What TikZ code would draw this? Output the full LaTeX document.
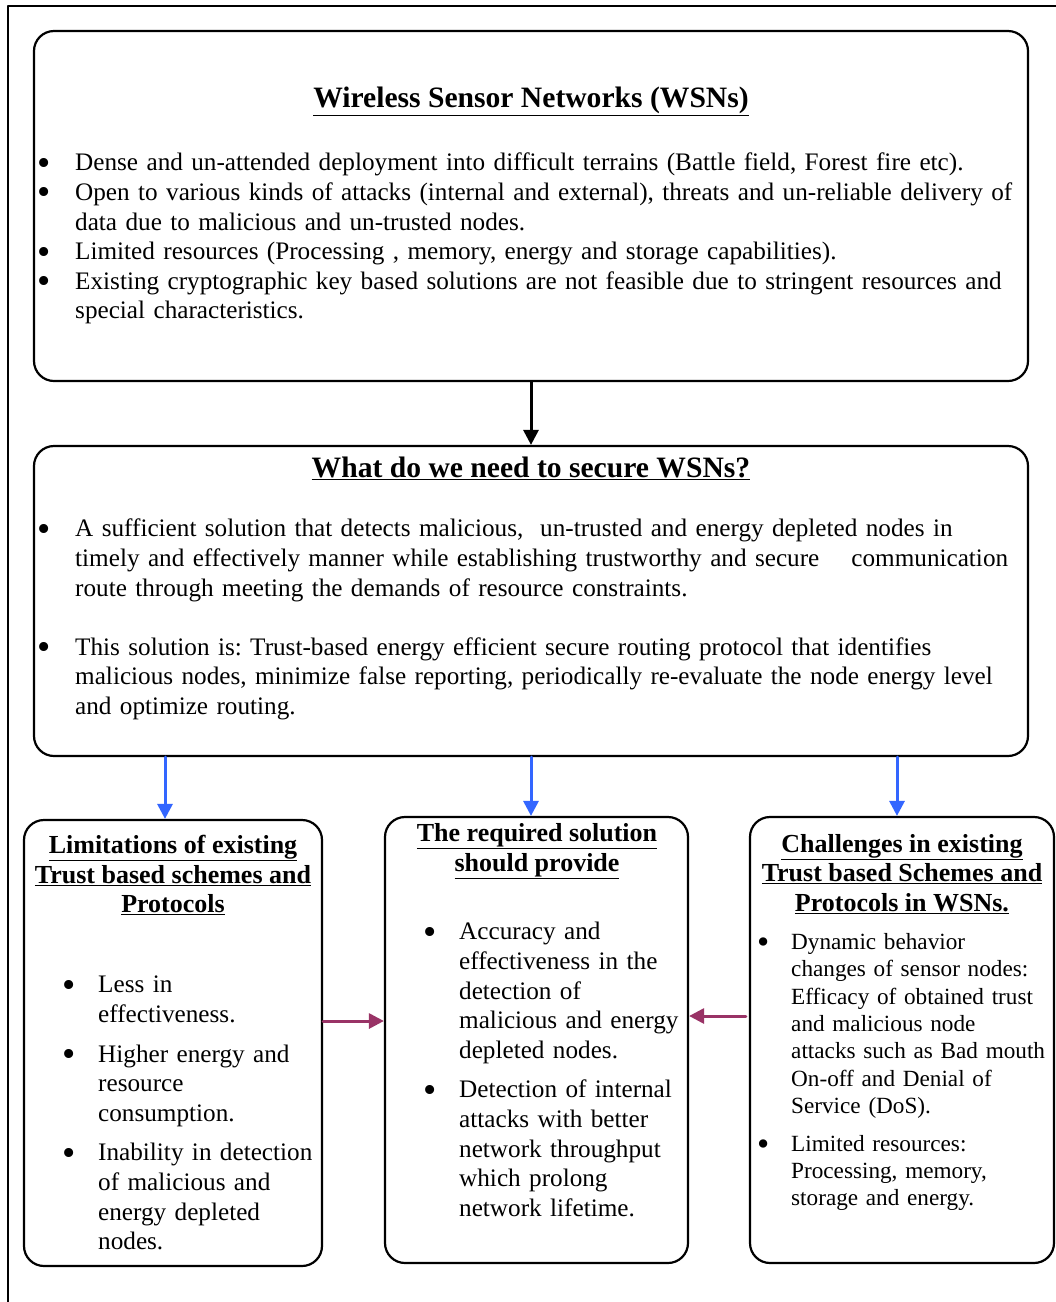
\documentclass[tikz,border=0pt]{standalone}
\usepackage{fontspec}
\setmainfont{Liberation Serif}
\usepackage{enumitem}
\usetikzlibrary{arrows.meta,calc,positioning}
\definecolor{wsnBlue}{HTML}{3366FF}
\definecolor{wsnPlum}{HTML}{993366}
\setlist[itemize]{label=\raisebox{-0.18em}{\scalebox{1.5}{\textbullet}},topsep=0pt,partopsep=0pt,parsep=0pt,itemsep=0pt}
\newcommand{\bodyfont}{\fontsize{25.2}{29.6}\selectfont}
\newcommand{\smallbody}{\fontsize{23.2}{27.3}\selectfont}
\newcommand{\headfont}{\bfseries\fontsize{29.6}{33}\selectfont}
\newcommand{\subhead}{\bfseries\fontsize{26}{29.6}\selectfont}
\frenchspacing
\begin{document}
\begin{tikzpicture}[x=1pt,y=-1pt,line cap=round,line join=round]
\useasboundingbox (0,0) rectangle (1056,1302);
\path[fill=white] (0,0) rectangle (1056,1302);
\draw[line width=1.6pt,line cap=butt] (1056,6) -- (8,6) -- (8,1302);
\tikzset{panel/.style={draw,line width=2.2pt,rounded corners=20pt,inner sep=0pt},
  txt/.style={anchor=north west,inner sep=0pt,align=left,font=\bodyfont},
  head/.style={inner sep=0pt,align=center,font=\subhead},
  down/.style={-{Triangle[width=15pt,length=15pt]},line width=3pt},
  bluedown/.style={down,draw=wsnBlue,-{Triangle[width=15pt,length=15pt,fill=wsnBlue]}},
  across/.style={-{Triangle[width=15pt,length=15pt]},line width=3pt,draw=wsnPlum}}
\node[panel,minimum width=994pt,minimum height=350pt] (wsn) at (531,206) {};
\node[panel,minimum width=994pt,minimum height=310pt] (need) at (531,601) {};
\node[panel,minimum width=298pt,minimum height=446pt] (limits) at (173,1043) {};
\node[panel,minimum width=303pt,minimum height=446pt] (required) at (536.5,1040) {};
\node[panel,minimum width=304pt,minimum height=446pt] (challenges) at (902,1040) {};
\node[inner sep=0pt,font=\headfont] (wsntitle) at (531,101) {\underline{Wireless Sensor Networks (WSNs)}};
\node[txt,text width=985pt] (wsnlist) at (37,141) {\begin{itemize}[leftmargin=38pt,labelsep=24pt]
\item Dense and un-attended deployment into difficult terrains (Battle field, Forest fire etc).
\item Open to various kinds of attacks (internal and external), threats and un-reliable delivery of\\ data due to malicious and un-trusted nodes.
\item Limited resources (Processing , memory, energy and storage capabilities).
\item Existing cryptographic key based solutions are not feasible due to stringent resources and\\ special characteristics.
\end{itemize}};
\node[inner sep=0pt,font=\headfont] (needtitle) at (531,468) {\underline{What do we need to secure WSNs?}};
\node[txt,text width=985pt] (needlist) at (37,507) {\begin{itemize}[leftmargin=38pt,labelsep=24pt,itemsep=29.6pt]
\item A sufficient solution that detects malicious,\ \ un-trusted and energy depleted nodes in\\ timely and effectively manner while establishing trustworthy and secure\hspace{32pt}communication\\ route through meeting the demands of resource constraints.
\item This solution is: Trust-based energy efficient secure routing protocol that identifies\\ malicious nodes, minimize false reporting, periodically re-evaluate the node energy level\\ and optimize routing.
\end{itemize}};
\node[head] (limitstitle) at (173,875) {\underline{Limitations of existing}\\\underline{Trust based schemes and}\\\underline{Protocols}};
\node[txt,text width=250pt] (limitslist) at (70,963) {\begin{itemize}[leftmargin=28pt,labelsep=22pt,itemsep=10pt]
\item Less in\\ effectiveness.
\item Higher energy and\\ resource\\ consumption.
\item Inability in detection\\ of malicious and\\ energy depleted\\ nodes.
\end{itemize}};
\node[head] (requiredtitle) at (537,851) {\underline{The required solution}\\\underline{should provide}};
\node[txt,text width=250pt] (requiredlist) at (431,910) {\begin{itemize}[leftmargin=28pt,labelsep=22pt,itemsep=10pt]
\item Accuracy and\\ effectiveness in the\\ detection of\\ malicious and energy\\ depleted nodes.
\item Detection of internal\\ attacks with better\\ network throughput\\ which prolong\\ network lifetime.
\end{itemize}};
\node[head] (challengestitle) at (902,874) {\underline{Challenges in existing}\\\underline{Trust based Schemes and}\\\underline{Protocols in WSNs.}};
\node[txt,font=\smallbody,text width=310pt] (challengeslist) at (764,922) {\begin{itemize}[leftmargin=27pt,labelsep=22pt,itemsep=10.5pt]
\item Dynamic behavior\\ changes of sensor nodes:\\ Efficacy of obtained trust\\ and malicious node\\ attacks such as Bad mouth\\ On-off and Denial of\\ Service (DoS).
\item Limited resources:\\ Processing, memory,\\ storage and energy.
\end{itemize}};
\draw[down] (wsn.south) -- (need.north);
\draw[bluedown] ([xshift=-8pt]limits.north |- need.south) -- ([xshift=-8pt]limits.north);
\draw[bluedown] ([xshift=-5.5pt]required.north |- need.south) -- ([xshift=-5.5pt]required.north);
\draw[bluedown] ([xshift=-5pt]challenges.north |- need.south) -- ([xshift=-5pt]challenges.north);
\draw[across] ([yshift=22pt]limits.east) -- ([yshift=22pt]limits.east -| required.west);
\draw[across] ([yshift=24pt,xshift=-3pt]challenges.west) -- ([yshift=24pt]challenges.west -| required.east);
\end{tikzpicture}
\end{document}
